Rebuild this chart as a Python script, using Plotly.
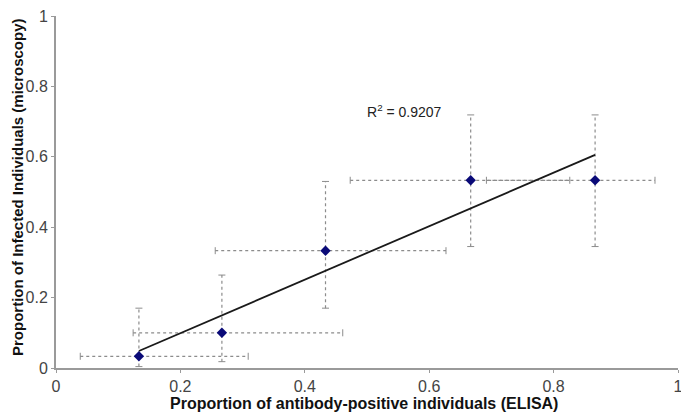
import numpy as np
import plotly.graph_objects as go

# Data
elisa = [0.1333, 0.2667, 0.4333, 0.6667, 0.8667]
elisa_lo = [0.039, 0.124, 0.256, 0.473, 0.692]
elisa_hi = [0.309, 0.461, 0.627, 0.826, 0.963]
micro = [0.0333, 0.1000, 0.3333, 0.5333, 0.5333]
micro_lo = [0.004, 0.018, 0.170, 0.345, 0.345]
micro_hi = [0.170, 0.264, 0.530, 0.719, 0.719]
r2_label = "R<sup>2</sup> = 0.9207"
x_title = "Proportion of antibody-positive individuals (ELISA)"
y_title = "Proportion of Infected Individuals (microscopy)"

x_ticks = [0, 0.2, 0.4, 0.6, 0.8, 1]
x_ticklabels = ["0", "0.2", "0.4", "0.6", "0.8", "1"]
y_ticks = [0, 0.2, 0.4, 0.6, 0.8, 1]
y_ticklabels = ["0", "0.2", "0.4", "0.6", "0.8", "1"]

FONT = "Liberation Sans, Arial, sans-serif"
err_col = "#8c8c8c"
fig = go.Figure()

# Horizontal error bars (dotted)
hx, hy = [], []
for x, lo, hi, y in zip(elisa, elisa_lo, elisa_hi, micro):
    hx += [lo, hi, None]
    hy += [y, y, None]
fig.add_trace(go.Scatter(x=hx, y=hy, mode="lines",
                         line=dict(color=err_col, width=1.2, dash="dot"),
                         hoverinfo="skip", showlegend=False))
fig.add_trace(go.Scatter(x=elisa_lo + elisa_hi, y=micro + micro, mode="markers",
                         marker=dict(symbol="line-ns-open", size=5, color=err_col,
                                     line=dict(color=err_col, width=1)),
                         hoverinfo="skip", showlegend=False))

# Vertical error bars (dotted)
vx, vy = [], []
for x, y, lo, hi in zip(elisa, micro, micro_lo, micro_hi):
    vx += [x, x, None]
    vy += [lo, hi, None]
fig.add_trace(go.Scatter(x=vx, y=vy, mode="lines",
                         line=dict(color=err_col, width=1.2, dash="dot"),
                         hoverinfo="skip", showlegend=False))
fig.add_trace(go.Scatter(x=elisa + elisa, y=micro_lo + micro_hi, mode="markers",
                         marker=dict(symbol="line-ew-open", size=5, color=err_col,
                                     line=dict(color=err_col, width=1)),
                         hoverinfo="skip", showlegend=False))

# Linear trendline
slope, intercept = np.polyfit(elisa, micro, 1)
tx = [min(elisa), max(elisa)]
ty = [slope * v + intercept for v in tx]
fig.add_trace(go.Scatter(x=tx, y=ty, mode="lines",
                         line=dict(color="#1a1a1a", width=1.8),
                         hoverinfo="skip", showlegend=False))

# Data points
fig.add_trace(go.Scatter(x=elisa, y=micro, mode="markers",
                         marker=dict(symbol="diamond", size=8, color="#0a0a78"),
                         showlegend=False))

fig.add_annotation(x=0.561, y=0.731, xref="x", yref="y", text=r2_label,
                   showarrow=False, font=dict(family=FONT, size=14, color="#222"))

fig.add_annotation(x=0.5, y=0, xref="paper", yref="paper", yanchor="middle",
                   yshift=-35, xshift=-3, text="<b>" + x_title + "</b>", showarrow=False,
                   font=dict(family=FONT, size=16, color="#111"))
fig.add_annotation(x=0, y=0.5, xref="paper", yref="paper", xanchor="center",
                   yanchor="middle", xshift=-39, yshift=5, textangle=-90,
                   text="<b>" + y_title + "</b>", showarrow=False,
                   font=dict(family=FONT, size=15, color="#111"))

axis_common = dict(showgrid=False, zeroline=False, showline=True, automargin=False,
                   linecolor="#9a9a9a", linewidth=2, ticks="outside",
                   ticklen=3, tickcolor="#9a9a9a", tickwidth=1,
                   ticklabeloverflow="allow",
                   tickfont=dict(family=FONT, size=16, color="#444"))

fig.update_layout(
    width=681, height=420,
    margin=dict(l=56, r=3, t=16, b=52),
    paper_bgcolor="white", plot_bgcolor="white",
    xaxis=dict(range=[0, 1], tickvals=x_ticks, ticktext=x_ticklabels, **axis_common),
    yaxis=dict(range=[0, 1], tickvals=y_ticks, ticktext=y_ticklabels, **axis_common),
)

# remove the default page margin so the 681x420 figure fills the window exactly
fig.write_html("out.html",
               config={"displayModeBar": False},
               post_script="document.body.style.margin='0';document.body.style.overflow='hidden';")
